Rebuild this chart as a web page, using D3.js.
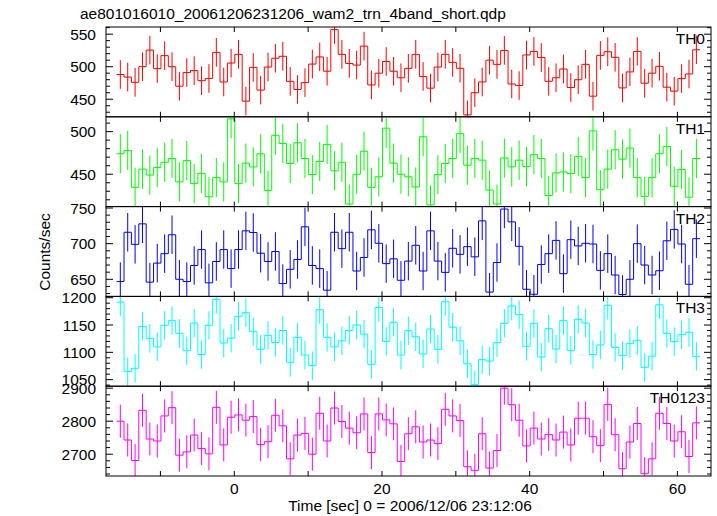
<!DOCTYPE html>
<html><head><meta charset="utf-8">
<script src="https://cdn.jsdelivr.net/npm/d3@7"></script>
<style>body{margin:0;background:#fff}svg{display:block}text{font-family:"Liberation Sans",Arial,Helvetica,sans-serif}</style>
</head><body><svg id="c" width="717" height="516"></svg>
<script>
const title = "ae801016010_20061206231206_wam2_trn_4band_short.qdp";
const xLabel = "Time [sec] 0 = 2006/12/06 23:12:06";
const yLabel = "Counts/sec";
const binStart = -15.43, binWidth = 1.0;
const xTickLabels = [0, 20, 40, 60];

const panelNames = ["TH0", "TH1", "TH2", "TH3", "TH0123"];
const panelColors = ["#ff0000", "#00ff00", "#0000ff", "#00ffff", "#ff00ff"];
const panelErr = [22, 23, 27, 26, 50];
const panelDomains = [[423, 561], [412, 517.4], [626, 752], [1038, 1202.4], [2634, 2906]];
const panelMajor = [[450, 500, 550], [450, 500], [650, 700, 750], [1050, 1100, 1150, 1200], [2700, 2800, 2900]];
const panelMinorStep = [10, 10, 10, 10, 20];

const th0 = [488,484,476,500,525.5,497,517,500,470,491,494,478.5,482,522,476.5,505.6,519,447,499,464,499.5,513,516,477.5,465,475.5,504,515,493,557,519,505,502.5,531.6,472,490,508,493,
  483,497.5,519,485,467,499.5,519,506.6,497.5,426,460,476.5,510,503.6,525,473.5,471,518,523.5,514,477.5,483,496.5,468,480,503.6,454.7,517.4,523,514.4,467.4,492,523.5,474.6,490,500.6,468.5,462.4,481.7,488.8,526];
const th1 = [474,478,434.6,456,449,458,464,468.5,441,466,439,451,423.6,446,441,515,439,463,458.6,474,431,495.7,486,462.6,487,468.5,449.6,465,485,454,464,415,450,477,434.6,447,504,463,
  450,447,435,494,414,449.6,462.6,468.5,497.6,460.6,468.5,466.5,431.4,415,469,458.6,466.5,459,473,468.5,425,451.5,452.7,450.7,471,446,500.8,431.8,456,478.7,467.7,480.7,446,424,446,474,482.7,435.8,455.5,423,468.5];
const th2 = [646.8,716,699,727.8,646,672.7,686,712.5,650,646.8,669.4,691.7,645,675,691.7,665,691.7,718,715.7,686.6,675,689,644,664,677.8,723.6,669.4,665,634.7,716,693,716,661.6,680.6,719.4,700.5,672,678.7,
  648.6,675.5,697.7,661.6,718,675.5,659.7,693.5,685,695.8,681.5,732,632,673.6,748.6,730.6,696.3,636,629,670.8,686,704.6,657.9,705.6,696.8,700.5,699.5,662.5,686,656,628.7,650,700,670,656,662,704,720,699.5,643,707];
const th3 = [1192,1064.6,1070.7,1147.6,1125.6,1110,1149.4,1158,1134.7,1103,1153.7,1096,1149.4,1197,1117,1126,1166,1172.6,1137.8,1105.5,1131,1118,1140,1081.7,1127.4,1095,1075.6,1178,1127.4,1110,1121,1140,1150,1133.5,1078,1182,1120,1155,
  1095,1139.6,1128.6,1097,1142.7,1105.5,1192.7,1146,1121,1079,1040.8,1086.6,1084,1117.7,1153,1185,1169,1111,1153,1091.4,1143.3,1106,1158,1103.6,1160.4,1153.7,1096,1113.4,1186,1109,1094,1116,1122,1072.5,1093,1187,1134.7,1119.5,1132.3,1136.6,1092.7];
const th0123 = [2800,2743,2681,2833,2746,2740,2816,2841,2697,2707,2758,2717,2701,2842,2728,2812,2819,2803,2814,2729,2738,2818,2786,2686,2758,2763,2700,2824,2740,2840,2799,2779,2765,2822,2705,2822,2804,2792,
  2678,2762,2783,2737,2743,2732,2836,2816,2802,2662,2651,2762,2658,2711,2900,2850,2803,2725,2779,2746,2760,2743,2767,2728,2809,2809,2753,2726,2851,2759,2656,2737,2793,2641,2686,2824,2793,2740,2768,2693,2795];
const panelValues = [th0, th1, th2, th3, th0123];

(function () {
const mLeft = 106, mRight = 711, mTop = 27, mBottom = 476;
const ph = (mBottom - mTop) / 5;
const svg = d3.select("#c");
const x = d3.scaleLinear().domain([-17.37, 64.55]).range([mLeft, mRight]);
const xTicks = d3.range(-10, 61, 10);

svg.append("text").attr("x", 80).attr("y", 19).attr("font-size", 15.5).text(title);

panelValues.forEach((vals, p) => {
  const y0 = mTop + p * ph, y1 = y0 + ph;
  const y = d3.scaleLinear().domain(panelDomains[p]).range([y1, y0]);
  const g = svg.append("g");
  const cid = "clip" + p;
  svg.append("clipPath").attr("id", cid).append("rect").attr("x", mLeft).attr("y", y0).attr("width", mRight - mLeft).attr("height", ph);
  const col = panelColors[p];
  const pts = vals.map((v, i) => ({t: binStart + i * binWidth, v}));
  const gd = g.append("g").attr("clip-path", `url(#${cid})`);
  gd.selectAll("line.err").data(pts).enter().append("line")
    .attr("x1", d => x(d.t)).attr("x2", d => x(d.t))
    .attr("y1", d => y(d.v - panelErr[p])).attr("y2", d => y(d.v + panelErr[p]))
    .attr("stroke", col).attr("stroke-width", 1);
  const stepPts = pts.map(d => [d.t - binWidth / 2, d.v]);
  stepPts.push([pts[pts.length - 1].t + binWidth / 2, pts[pts.length - 1].v]);
  const line = d3.line().x(d => x(d[0])).y(d => y(d[1])).curve(d3.curveStepAfter);
  gd.append("path").attr("d", line(stepPts)).attr("fill", "none").attr("stroke", col).attr("stroke-width", 1);

  g.append("rect").attr("x", mLeft).attr("y", y0).attr("width", mRight - mLeft).attr("height", ph)
    .attr("fill", "none").attr("stroke", "#000").attr("stroke-width", 1);
  const [dmin, dmax] = panelDomains[p];
  const st = panelMinorStep[p];
  const minors = d3.range(Math.ceil(dmin / st) * st, dmax, st);
  minors.forEach(v => {
    const major = panelMajor[p].includes(v);
    const len = major ? 7 : 4;
    g.append("line").attr("x1", mLeft).attr("x2", mLeft + len).attr("y1", y(v)).attr("y2", y(v)).attr("stroke", "#000");
    g.append("line").attr("x1", mRight).attr("x2", mRight - len).attr("y1", y(v)).attr("y2", y(v)).attr("stroke", "#000");
  });
  panelMajor[p].forEach(v => {
    g.append("text").attr("x", mLeft - 10).attr("y", y(v) + 5.5).attr("text-anchor", "end").attr("font-size", 15.5).text(v);
  });
  xTicks.forEach(t => {
    g.append("line").attr("x1", x(t)).attr("x2", x(t)).attr("y1", y1).attr("y2", y1 - 5).attr("stroke", "#000");
    g.append("line").attr("x1", x(t)).attr("x2", x(t)).attr("y1", y0).attr("y2", y0 + 5).attr("stroke", "#000");
  });
  g.append("text").attr("x", 705).attr("y", y0 + 17).attr("text-anchor", "end").attr("font-size", 15.5).text(panelNames[p]);
});

xTickLabels.forEach(t => {
  svg.append("text").attr("x", x(t)).attr("y", 494).attr("text-anchor", "middle").attr("font-size", 15.5).text(t);
});
svg.append("text").attr("x", 410).attr("y", 511).attr("text-anchor", "middle").attr("font-size", 15.5).text(xLabel);
svg.append("text").attr("transform", "translate(50,252) rotate(-90)").attr("text-anchor", "middle").attr("font-size", 15.5).text(yLabel);
})();
</script></body></html>
